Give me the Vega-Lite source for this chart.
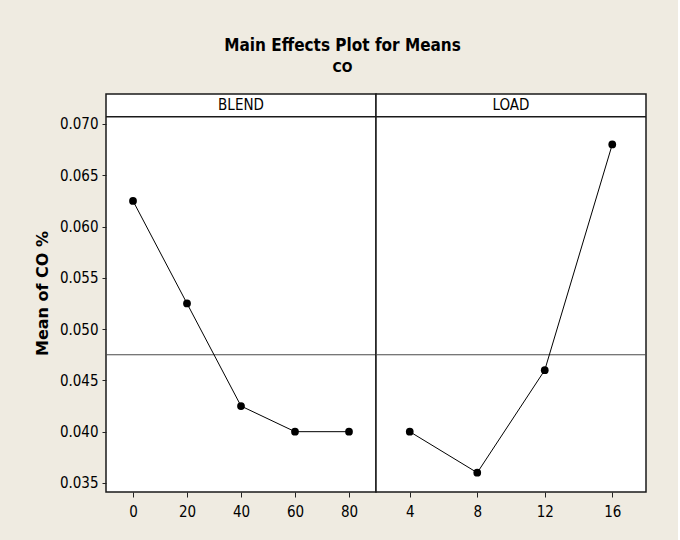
{
  "$schema": "https://vega.github.io/schema/vega-lite/v6.json",
  "background": "#EFEBE1",
  "padding": {"left": 33, "top": 37, "right": 30, "bottom": 25},
  "bounds": "flush",
  "title": {
    "text": "Main Effects Plot for Means",
    "subtitle": "CO",
    "font": "DejaVu Sans Condensed, Liberation Sans",
    "fontSize": 17,
    "fontWeight": "bold",
    "color": "#000000",
    "subtitleFont": "DejaVu Sans Condensed, Liberation Sans",
    "subtitleFontSize": 14,
    "subtitleFontWeight": "bold",
    "subtitleColor": "#000000",
    "subtitlePadding": 6,
    "anchor": "middle",
    "dx": 2,
    "offset": 17
  },
  "data": {
    "values": [
      {"factor": "BLEND", "level": 0, "mean": 0.0625},
      {"factor": "BLEND", "level": 20, "mean": 0.0525},
      {"factor": "BLEND", "level": 40, "mean": 0.0425},
      {"factor": "BLEND", "level": 60, "mean": 0.0400},
      {"factor": "BLEND", "level": 80, "mean": 0.0400},
      {"factor": "LOAD", "level": 4, "mean": 0.0400},
      {"factor": "LOAD", "level": 8, "mean": 0.0360},
      {"factor": "LOAD", "level": 12, "mean": 0.0460},
      {"factor": "LOAD", "level": 16, "mean": 0.0680}
    ]
  },
  "spacing": 0,
  "hconcat": [
    {
      "width": 270,
      "height": 398,
      "transform": [{"filter": "datum.factor === 'BLEND'"}],
      "layer": [
        {
          "transform": [{"aggregate": [{"op": "mean", "field": "level", "as": "center"}], "groupby": ["factor"]}],
          "mark": {"type": "rule", "color": "#1a1a1a", "strokeWidth": 1.5},
          "encoding": {
            "y": {"datum": 0.07071, "type": "quantitative", "scale": {"domain": [0.03412, 0.07292], "nice": false, "zero": false}}
          }
        },
        {
          "transform": [{"aggregate": [{"op": "mean", "field": "level", "as": "center"}], "groupby": ["factor"]}],
          "mark": {"type": "text", "font": "DejaVu Sans Condensed, Liberation Sans", "fontSize": 15, "color": "#000000", "baseline": "middle", "align": "center"},
          "encoding": {
            "x": {"field": "center", "type": "quantitative", "scale": {"domain": [-10, 90], "nice": false, "zero": false}, "axis": {"values": [0, 20, 40, 60, 80], "title": null, "labelPadding": 7}},
            "y": {"datum": 0.07182, "type": "quantitative", "scale": {"domain": [0.03412, 0.07292], "nice": false, "zero": false}},
            "text": {"field": "factor"}
          }
        },
        {
          "mark": {"type": "rule", "color": "#4a4a4a", "strokeWidth": 1},
          "encoding": {
            "y": {"aggregate": "mean", "field": "mean", "type": "quantitative", "scale": {"domain": [0.03412, 0.07292], "nice": false, "zero": false}}
          }
        },
        {
          "mark": {"type": "line", "color": "#000000", "strokeWidth": 1},
          "encoding": {
            "x": {"field": "level", "type": "quantitative", "scale": {"domain": [-10, 90], "nice": false, "zero": false}, "axis": {"values": [0, 20, 40, 60, 80], "title": null, "labelPadding": 7}},
            "y": {"field": "mean", "type": "quantitative", "scale": {"domain": [0.03412, 0.07292], "nice": false, "zero": false},
              "axis": {"values": [0.035, 0.04, 0.045, 0.05, 0.055, 0.06, 0.065, 0.07], "format": ".3f", "tickSize": 4, "title": "Mean of CO %", "titleFont": "DejaVu Sans", "titleFontSize": 16, "titleFontWeight": "bold", "titleColor": "#000000", "titlePadding": 9}}
          }
        },
        {
          "mark": {"type": "point", "filled": true, "color": "#000000", "size": 60, "opacity": 1},
          "encoding": {
            "x": {"field": "level", "type": "quantitative", "scale": {"domain": [-10, 90], "nice": false, "zero": false}},
            "y": {"field": "mean", "type": "quantitative", "scale": {"domain": [0.03412, 0.07292], "nice": false, "zero": false}}
          }
        }
      ]
    },
    {
      "width": 270,
      "height": 398,
      "transform": [{"filter": "datum.factor === 'LOAD'"}],
      "layer": [
        {
          "transform": [{"aggregate": [{"op": "mean", "field": "level", "as": "center"}], "groupby": ["factor"]}],
          "mark": {"type": "rule", "color": "#1a1a1a", "strokeWidth": 1.5},
          "encoding": {
            "y": {"datum": 0.07071, "type": "quantitative", "scale": {"domain": [0.03412, 0.07292], "nice": false, "zero": false}, "axis": null}
          }
        },
        {
          "transform": [{"aggregate": [{"op": "mean", "field": "level", "as": "center"}], "groupby": ["factor"]}],
          "mark": {"type": "text", "font": "DejaVu Sans Condensed, Liberation Sans", "fontSize": 15, "color": "#000000", "baseline": "middle", "align": "center"},
          "encoding": {
            "x": {"field": "center", "type": "quantitative", "scale": {"domain": [2, 18], "nice": false, "zero": false}, "axis": {"values": [4, 8, 12, 16], "title": null, "labelPadding": 7}},
            "y": {"datum": 0.07182, "type": "quantitative", "scale": {"domain": [0.03412, 0.07292], "nice": false, "zero": false}, "axis": null},
            "text": {"field": "factor"}
          }
        },
        {
          "mark": {"type": "rule", "color": "#4a4a4a", "strokeWidth": 1},
          "encoding": {
            "y": {"aggregate": "mean", "field": "mean", "type": "quantitative", "scale": {"domain": [0.03412, 0.07292], "nice": false, "zero": false}, "axis": null}
          }
        },
        {
          "mark": {"type": "line", "color": "#000000", "strokeWidth": 1},
          "encoding": {
            "x": {"field": "level", "type": "quantitative", "scale": {"domain": [2, 18], "nice": false, "zero": false}, "axis": {"values": [4, 8, 12, 16], "title": null, "labelPadding": 7}},
            "y": {"field": "mean", "type": "quantitative", "scale": {"domain": [0.03412, 0.07292], "nice": false, "zero": false}, "axis": null}
          }
        },
        {
          "mark": {"type": "point", "filled": true, "color": "#000000", "size": 60, "opacity": 1},
          "encoding": {
            "x": {"field": "level", "type": "quantitative", "scale": {"domain": [2, 18], "nice": false, "zero": false}},
            "y": {"field": "mean", "type": "quantitative", "scale": {"domain": [0.03412, 0.07292], "nice": false, "zero": false}, "axis": null}
          }
        }
      ]
    }
  ],
  "config": {
    "view": {"stroke": "#1a1a1a", "strokeWidth": 1.5, "fill": "#ffffff"},
    "axis": {
      "domain": false,
      "grid": false,
      "ticks": true,
      "tickColor": "#222222",
      "tickSize": 5,
      "labelFont": "DejaVu Sans Condensed, Liberation Sans",
      "labelFontSize": 15,
      "labelColor": "#000000",
      "labelPadding": 4
    }
  }
}
